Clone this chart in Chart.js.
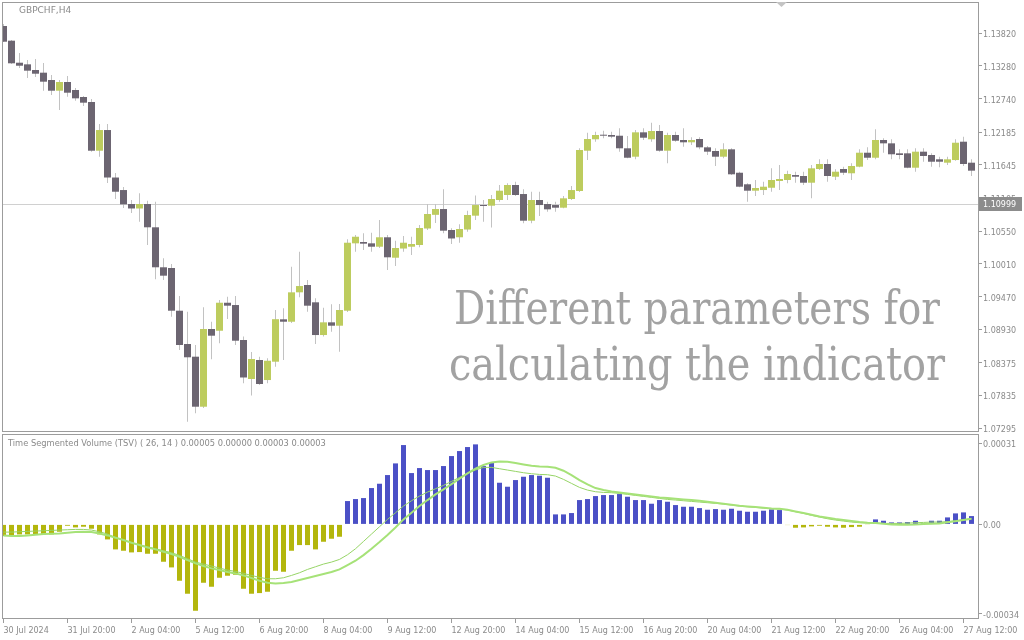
<!DOCTYPE html>
<html>
<head>
<meta charset="utf-8">
<title>GBPCHF,H4 - Time Segmented Volume</title>
<script src="https://cdn.jsdelivr.net/npm/chart.js@4.4.1/dist/chart.umd.min.js"></script>
<style>
  html, body { margin: 0; padding: 0; background: #fff; }
  #wrap { position: relative; width: 1024px; height: 640px; overflow: hidden; background: #fff; }
  canvas { position: absolute; left: 0; }
  #main { top: 0; }
  #sub { top: 434px; }
</style>
</head>
<body>
<div id="wrap">
  <canvas id="main" width="1024" height="434" style="width:1024px;height:434px"></canvas>
  <canvas id="sub" width="1024" height="206" style="width:1024px;height:206px"></canvas>
</div>
<script>
// ---- data (one entry per H4 bar, 30 Jul 12:00 .. 27 Aug 16:00) ----
const symbol = "GBPCHF,H4";

const priceOpen = [
  1.13941, 1.13698, 1.13334, 1.13307, 1.13213, 1.13169, 1.13048, 1.12871, 1.13015, 1.12883,
  1.12767, 1.12684, 1.11879, 1.12221, 1.11436, 1.11229, 1.10998, 1.10924, 1.10998, 1.10613,
  1.09952, 1.09940, 1.09234, 1.08684, 1.08474, 1.07647, 1.08932, 1.08903, 1.09366, 1.09328,
  1.08750, 1.08105, 1.08419, 1.08088, 1.08391, 1.09092, 1.09052, 1.09538, 1.09659, 1.09373,
  1.08832, 1.09042, 1.08986, 1.09234, 1.10348, 1.10370, 1.10348, 1.10292, 1.10448, 1.10110,
  1.10262, 1.10292, 1.10320, 1.10593, 1.10819, 1.10915, 1.10568, 1.10448, 1.10576, 1.10805,
  1.10981, 1.10970, 1.11064, 1.11147, 1.11312, 1.11163, 1.10722, 1.11064, 1.10998, 1.10981,
  1.10937, 1.11081, 1.11213, 1.11879, 1.12068, 1.12139, 1.12139, 1.12127, 1.11919, 1.11780,
  1.12183, 1.12068, 1.12205, 1.11879, 1.12139, 1.12056, 1.12018, 1.12073, 1.11935, 1.11874,
  1.11780, 1.11902, 1.11515, 1.11324, 1.11218, 1.11229, 1.11267, 1.11378, 1.11395, 1.11477,
  1.11461, 1.11350, 1.11577, 1.11659, 1.11449, 1.11577, 1.11506, 1.11615, 1.11846, 1.11763,
  1.12056, 1.12001, 1.11836, 1.11836, 1.11598, 1.11863, 1.11808, 1.11737, 1.11681, 1.11725,
  1.12028, 1.11681
];
const priceHigh = [
  1.13974, 1.13709, 1.13494, 1.13379, 1.13395, 1.13329, 1.13131, 1.13048, 1.13114, 1.12916,
  1.12783, 1.12734, 1.12321, 1.12321, 1.11511, 1.11279, 1.11064, 1.11175, 1.11053, 1.11036,
  1.10100, 1.10006, 1.09477, 1.09218, 1.08667, 1.09290, 1.09052, 1.09411, 1.09466, 1.09477,
  1.08808, 1.08551, 1.08474, 1.08447, 1.09246, 1.09274, 1.09961, 1.10209, 1.09742, 1.09439,
  1.09284, 1.09340, 1.09345, 1.10414, 1.10486, 1.10514, 1.10524, 1.10734, 1.10486, 1.10391,
  1.10469, 1.10457, 1.10651, 1.10998, 1.10998, 1.11241, 1.10596, 1.10662, 1.10887, 1.11139,
  1.11064, 1.11147, 1.11312, 1.11340, 1.11367, 1.11241, 1.11201, 1.11201, 1.11036, 1.11036,
  1.11130, 1.11296, 1.11919, 1.12177, 1.12193, 1.12210, 1.12193, 1.12249, 1.12122, 1.12221,
  1.12249, 1.12342, 1.12304, 1.12177, 1.12193, 1.12249, 1.12101, 1.12101, 1.11957, 1.11919,
  1.12001, 1.11919, 1.11532, 1.11340, 1.11395, 1.11367, 1.11588, 1.11643, 1.11549, 1.11532,
  1.11532, 1.11643, 1.11737, 1.11737, 1.11572, 1.11615, 1.11671, 1.11902, 1.11935, 1.12233,
  1.12084, 1.12068, 1.11902, 1.11902, 1.11919, 1.11919, 1.11836, 1.11780, 1.11780, 1.12068,
  1.12111, 1.11737
];
const priceLow = [
  1.13676, 1.13312, 1.13246, 1.13081, 1.13098, 1.12871, 1.12800, 1.12552, 1.12772, 1.12706,
  1.12618, 1.11863, 1.11780, 1.11345, 1.11081, 1.10932, 1.10849, 1.10705, 1.10320, 1.09753,
  1.09742, 1.09135, 1.08584, 1.07399, 1.07538, 1.07625, 1.08431, 1.08695, 1.09097, 1.08667,
  1.08034, 1.07832, 1.08006, 1.08034, 1.08308, 1.08419, 1.09031, 1.09456, 1.09218, 1.08684,
  1.08808, 1.08887, 1.08556, 1.09213, 1.10209, 1.10238, 1.10209, 1.10271, 1.09907, 1.09973,
  1.10209, 1.10155, 1.10282, 1.10568, 1.10684, 1.10514, 1.10337, 1.10358, 1.10540, 1.10734,
  1.10705, 1.10610, 1.11036, 1.11064, 1.11130, 1.10679, 1.10679, 1.10800, 1.10871, 1.10871,
  1.10927, 1.11064, 1.11196, 1.11725, 1.12028, 1.12084, 1.12084, 1.11863, 1.11753, 1.11737,
  1.12056, 1.12028, 1.11863, 1.11671, 1.12028, 1.11945, 1.11973, 1.11902, 1.11808, 1.11626,
  1.11753, 1.11477, 1.11274, 1.11036, 1.11130, 1.11147, 1.11201, 1.11229, 1.11340, 1.11350,
  1.11312, 1.11092, 1.11560, 1.11367, 1.11395, 1.11477, 1.11395, 1.11605, 1.11725, 1.11737,
  1.11846, 1.11737, 1.11737, 1.11588, 1.11532, 1.11697, 1.11615, 1.11605, 1.11643, 1.11714,
  1.11626, 1.11461
];
const priceClose = [
  1.13681, 1.13324, 1.13284, 1.13202, 1.13152, 1.13020, 1.12871, 1.13015, 1.12838, 1.12745,
  1.12673, 1.11879, 1.12221, 1.11436, 1.11201, 1.10993, 1.10924, 1.10998, 1.10613, 1.09952,
  1.09813, 1.09234, 1.08667, 1.08464, 1.07647, 1.08932, 1.08821, 1.09366, 1.09317, 1.08738,
  1.08130, 1.08436, 1.08022, 1.08407, 1.09094, 1.09052, 1.09538, 1.09642, 1.09317, 1.08832,
  1.09042, 1.08986, 1.09246, 1.10358, 1.10457, 1.10342, 1.10292, 1.10448, 1.10117, 1.10271,
  1.10358, 1.10337, 1.10601, 1.10833, 1.10915, 1.10557, 1.10428, 1.10585, 1.10816, 1.10981,
  1.10965, 1.11081, 1.11218, 1.11312, 1.11147, 1.10722, 1.11064, 1.10981, 1.10910, 1.10937,
  1.11092, 1.11229, 1.11891, 1.12073, 1.12139, 1.12127, 1.12111, 1.11919, 1.11763, 1.12183,
  1.12094, 1.12205, 1.11879, 1.12139, 1.12044, 1.12018, 1.12056, 1.11935, 1.11863, 1.11780,
  1.11902, 1.11489, 1.11284, 1.11218, 1.11263, 1.11284, 1.11395, 1.11411, 1.11494, 1.11449,
  1.11350, 1.11588, 1.11659, 1.11461, 1.11532, 1.11515, 1.11626, 1.11846, 1.11763, 1.12056,
  1.12001, 1.11820, 1.11808, 1.11598, 1.11863, 1.11792, 1.11697, 1.11697, 1.11737, 1.12011,
  1.11659, 1.11549
];
const priceTicks = [1.13820, 1.13280, 1.12740, 1.12185, 1.11645, 1.11105, 1.10550,
                    1.10010, 1.09470, 1.08930, 1.08375, 1.07835, 1.07295];
const priceLine = 1.10999;

// bar index of every date label on the time axis
const timeTicks = [0, 8, 16, 24, 32, 40, 48, 56, 64, 72, 80, 88, 96, 104, 112, 120];
const timeLabels = ["30 Jul 2024", "31 Jul 20:00", "2 Aug 04:00", "5 Aug 12:00", "6 Aug 20:00",
                    "8 Aug 04:00", "9 Aug 12:00", "12 Aug 20:00", "14 Aug 04:00", "15 Aug 12:00",
                    "16 Aug 20:00", "20 Aug 04:00", "21 Aug 12:00", "22 Aug 20:00", "26 Aug 04:00",
                    "27 Aug 12:00"];

const tsvHist = [
  -44.5e-6, -44.5e-6, -38.2e-6, -38.2e-6, -38.2e-6, -38.2e-6, -38.2e-6, -28.0e-6, -5.1e-6, -11.5e-6,
  -8.9e-6, -16.5e-6, -38.2e-6, -57.3e-6, -95.4e-6, -100.5e-6, -106.9e-6, -105.6e-6, -112.0e-6, -112.0e-6,
  -142.5e-6, -164.1e-6, -215.0e-6, -264.6e-6, -329.5e-6, -222.7e-6, -237.9e-6, -203.6e-6, -195.9e-6, -192.1e-6,
  -245.6e-6, -264.6e-6, -262.1e-6, -257.0e-6, -176.9e-6, -180.7e-6, -100.5e-6, -78.9e-6, -78.9e-6, -95.4e-6,
  -66.2e-6, -54.7e-6, -47.1e-6, 89.1e-6, 96.7e-6, 100.5e-6, 138.7e-6, 155.2e-6, 188.3e-6, 232.8e-6,
  302.8e-6, 195.9e-6, 215.0e-6, 207.4e-6, 207.4e-6, 222.7e-6, 260.8e-6, 279.9e-6, 295.2e-6, 305.4e-6,
  222.7e-6, 235.4e-6, 159.0e-6, 143.8e-6, 169.2e-6, 181.9e-6, 188.3e-6, 185.8e-6, 178.1e-6, 38.2e-6,
  38.2e-6, 43.3e-6, 92.9e-6, 96.7e-6, 108.1e-6, 112.0e-6, 112.0e-6, 115.8e-6, 105.6e-6, 92.9e-6,
  92.9e-6, 78.9e-6, 92.9e-6, 86.5e-6, 73.8e-6, 67.4e-6, 67.4e-6, 62.3e-6, 56.0e-6, 58.5e-6,
  56.0e-6, 59.8e-6, 52.2e-6, 48.3e-6, 48.3e-6, 52.2e-6, 57.3e-6, 54.7e-6, -2.5e-6, -12.7e-6,
  -11.5e-6, -7.6e-6, -5.1e-6, -8.9e-6, -11.5e-6, -12.7e-6, -10.2e-6, -8.9e-6, -1.3e-6, 19.1e-6,
  14.0e-6, 7.6e-6, 7.6e-6, 8.9e-6, 14.0e-6, 3.8e-6, 14.0e-6, 14.0e-6, 26.7e-6, 42.0e-6,
  45.8e-6, 31.8e-6
];
const tsvFast = [
  -42.0e-6, -44.5e-6, -44.5e-6, -42.0e-6, -39.4e-6, -36.9e-6, -35.6e-6, -34.4e-6, -31.8e-6, -29.3e-6,
  -28.0e-6, -29.3e-6, -34.4e-6, -42.0e-6, -50.9e-6, -59.8e-6, -70.0e-6, -78.9e-6, -87.8e-6, -95.4e-6,
  -104.3e-6, -113.2e-6, -123.4e-6, -136.1e-6, -148.9e-6, -159.0e-6, -167.9e-6, -174.3e-6, -181.9e-6, -187.0e-6,
  -194.7e-6, -204.8e-6, -215.0e-6, -222.7e-6, -225.2e-6, -223.9e-6, -220.1e-6, -212.5e-6, -204.8e-6, -197.2e-6,
  -189.6e-6, -181.9e-6, -171.8e-6, -155.2e-6, -138.7e-6, -117.1e-6, -92.9e-6, -67.4e-6, -40.7e-6, -11.5e-6,
  19.1e-6, 44.5e-6, 70.0e-6, 92.9e-6, 114.5e-6, 133.6e-6, 153.9e-6, 174.3e-6, 194.7e-6, 212.5e-6,
  226.5e-6, 236.6e-6, 240.5e-6, 239.2e-6, 234.1e-6, 229.0e-6, 223.9e-6, 221.4e-6, 220.1e-6, 216.3e-6,
  204.8e-6, 188.3e-6, 169.2e-6, 152.7e-6, 138.7e-6, 131.0e-6, 126.0e-6, 122.1e-6, 118.3e-6, 114.5e-6,
  110.7e-6, 106.9e-6, 103.1e-6, 100.5e-6, 98.0e-6, 95.4e-6, 92.9e-6, 90.3e-6, 86.5e-6, 82.7e-6,
  78.9e-6, 75.1e-6, 71.2e-6, 68.7e-6, 66.2e-6, 63.6e-6, 61.1e-6, 59.8e-6, 56.0e-6, 49.6e-6,
  43.3e-6, 36.9e-6, 30.5e-6, 25.4e-6, 20.4e-6, 16.5e-6, 12.7e-6, 8.9e-6, 6.4e-6, 5.1e-6,
  2.5e-6, 0, -1.3e-6, -1.3e-6, 0, 1.3e-6, 2.5e-6, 3.8e-6, 8.0e-6, 12.0e-6,
  17.0e-6, 22.0e-6
];
const tsvSlow = [
  -29.3e-6, -29.3e-6, -28.0e-6, -26.7e-6, -25.4e-6, -24.2e-6, -22.9e-6, -21.6e-6, -20.4e-6, -19.1e-6,
  -19.1e-6, -21.6e-6, -28.0e-6, -36.9e-6, -49.6e-6, -59.8e-6, -70.0e-6, -78.9e-6, -85.2e-6, -92.9e-6,
  -100.5e-6, -108.1e-6, -118.3e-6, -131.0e-6, -143.8e-6, -151.4e-6, -159.0e-6, -166.7e-6, -174.3e-6, -179.4e-6,
  -187.0e-6, -194.7e-6, -202.3e-6, -207.4e-6, -207.4e-6, -203.6e-6, -194.7e-6, -184.5e-6, -171.8e-6, -161.6e-6,
  -151.4e-6, -143.8e-6, -133.6e-6, -115.8e-6, -92.9e-6, -64.9e-6, -36.9e-6, -8.9e-6, 19.1e-6, 44.5e-6,
  70.0e-6, 90.3e-6, 108.1e-6, 123.4e-6, 136.1e-6, 148.9e-6, 164.1e-6, 179.4e-6, 194.7e-6, 207.4e-6,
  217.6e-6, 217.6e-6, 212.5e-6, 207.4e-6, 202.3e-6, 197.2e-6, 193.4e-6, 190.8e-6, 189.6e-6, 184.5e-6,
  171.8e-6, 156.5e-6, 141.2e-6, 131.0e-6, 124.7e-6, 122.1e-6, 120.9e-6, 118.3e-6, 114.5e-6, 110.7e-6,
  106.9e-6, 103.1e-6, 99.2e-6, 95.4e-6, 92.9e-6, 90.3e-6, 87.8e-6, 85.2e-6, 82.7e-6, 80.2e-6,
  77.6e-6, 73.8e-6, 70.0e-6, 67.4e-6, 64.9e-6, 62.3e-6, 59.8e-6, 58.5e-6, 54.7e-6, 48.3e-6,
  42.0e-6, 34.4e-6, 28.0e-6, 21.6e-6, 16.5e-6, 12.7e-6, 8.9e-6, 6.4e-6, 5.1e-6, 5.1e-6,
  3.8e-6, 3.8e-6, 3.8e-6, 5.1e-6, 6.4e-6, 7.6e-6, 8.9e-6, 8.9e-6, 10.2e-6, 14.0e-6,
  18.0e-6, 22.0e-6
];
const tsvTicks = [0.00031, 0, -0.00034];
const tsvTitle = "Time Segmented Volume (TSV) ( 26, 14 ) 0.00005 0.00000 0.00003 0.00003";
const caption = ["Different parameters for", "calculating the indicator"];

// ---- look ----
const bullColor = "#bdcc5e";
const bearColor = "#6c6571";
const wickColor = "#c2c2c2";
const upColor = "#4b50c6";
const downColor = "#b3b60c";
const fastColor = "#a6e278";
const slowColor = "#96d466";
const frameColor = "#9c9c9c";
const textColor = "#8a8a8a";

// visible bar range (half a bar of margin each side, 8 px per bar)
const xMin = -0.1875, xMax = 121.8125;

Chart.defaults.font.family = "'DejaVu Sans', sans-serif";
Chart.defaults.font.size = 8;
Chart.defaults.color = textColor;

function fixedTicks(values) {
  return scale => { scale.ticks = values.map(v => ({ value: v })); };
}

// keep the plot edges where the terminal puts them: no extra room for end labels
function fitWidth(w) {
  return s => { s.width = w; s.paddingTop = 0; s.paddingBottom = 0; };
}
function fitHeight(h) {
  return s => { s.height = h; s.paddingLeft = 0; s.paddingRight = 0; };
}

function drawFrame(ctx, a) {
  ctx.save();
  ctx.strokeStyle = frameColor;
  ctx.lineWidth = 1;
  ctx.strokeRect(a.left + 0.5, a.top + 0.5, a.right - a.left, a.bottom - a.top - 1);
  ctx.restore();
}

const mainDecor = {
  id: "mainDecor",
  beforeDatasetsDraw(chart) {
    const { ctx, chartArea: a, scales } = chart;
    const py = Math.round(scales.y.getPixelForValue(priceLine)) + 0.5;
    ctx.save();
    ctx.strokeStyle = "#d0d0d0";
    ctx.lineWidth = 1;
    ctx.beginPath();
    ctx.moveTo(a.left, py);
    ctx.lineTo(a.right, py);
    ctx.stroke();
    ctx.restore();
  },
  afterDatasetsDraw(chart) {
    const ctx = chart.ctx;
    ctx.save();
    ctx.fillStyle = "#a2a2a2";
    ctx.font = "47px 'DejaVu Serif', serif";
    ctx.textBaseline = "alphabetic";
    const rows = [[caption[0], 454, 324, 486], [caption[1], 449, 380, 496]];
    rows.forEach(([txt, x, y, w]) => {
      const k = w / ctx.measureText(txt).width;
      ctx.save();
      ctx.translate(x, y);
      ctx.scale(k, 1);
      ctx.fillText(txt, 0, 0);
      ctx.restore();
    });
    ctx.restore();
  },
  afterDraw(chart) {
    const { ctx, chartArea: a, scales } = chart;
    drawFrame(ctx, a);
    // current price box on the scale
    const py = Math.round(scales.y.getPixelForValue(priceLine));
    ctx.save();
    ctx.fillStyle = "#8c8c8c";
    ctx.fillRect(a.right + 1, py - 7, 43, 14);
    ctx.fillStyle = "#ffffff";
    ctx.font = "8px 'DejaVu Sans'";
    ctx.textBaseline = "middle";
    ctx.fillText(priceLine.toFixed(5), a.right + 5, py + 1);
    // symbol caption
    ctx.fillStyle = textColor;
    ctx.font = "9px 'DejaVu Sans'";
    ctx.fillText(symbol, 19, 11);
    // chart shift marker
    ctx.fillStyle = "#c4c4c4";
    ctx.beginPath();
    ctx.moveTo(776, 2);
    ctx.lineTo(787, 2);
    ctx.lineTo(781.5, 7);
    ctx.closePath();
    ctx.fill();
    ctx.restore();
  }
};

const subDecor = {
  id: "subDecor",
  afterDraw(chart) {
    const { ctx, chartArea: a } = chart;
    drawFrame(ctx, a);
    ctx.save();
    ctx.fillStyle = textColor;
    ctx.font = "8.3px 'DejaVu Sans'";
    ctx.textBaseline = "middle";
    ctx.fillText(tsvTitle, 8, 10);
    ctx.restore();
  }
};

new Chart(document.getElementById("main"), {
  type: "bar",
  data: {
    datasets: [
      {
        label: "body",
        data: priceOpen.map((o, i) => ({ x: i, y: [o, priceClose[i]] })),
        backgroundColor: priceOpen.map((o, i) => priceClose[i] >= o ? bullColor : bearColor),
        barThickness: 7,
        minBarLength: 1,
        grouped: false,
        inflateAmount: 0,
        borderWidth: 0,
        order: 1
      },
      {
        label: "wick",
        data: priceLow.map((l, i) => ({ x: i, y: [l, priceHigh[i]] })),
        backgroundColor: wickColor,
        barThickness: 1,
        grouped: false,
        inflateAmount: 0,
        borderWidth: 0,
        order: 2
      }
    ]
  },
  options: {
    responsive: false,
    animation: false,
    events: [],
    layout: { padding: { left: 2, top: 2, right: 0, bottom: 2 } },
    plugins: { legend: { display: false }, tooltip: { enabled: false } },
    scales: {
      x: { type: "linear", min: xMin, max: xMax, bounds: "data", offset: false, display: false },
      y: {
        type: "linear",
        position: "right",
        min: 1.07229,
        max: 1.143375,
        bounds: "data",
        afterBuildTicks: fixedTicks(priceTicks),
        afterFit: fitWidth(46),
        border: { display: false },
        grid: { drawOnChartArea: false, drawTicks: true, tickLength: 4, color: frameColor },
        ticks: { autoSkip: false, padding: 1, labelOffset: 2, color: textColor, callback: v => v.toFixed(5) }
      }
    }
  },
  plugins: [mainDecor]
});

new Chart(document.getElementById("sub"), {
  type: "bar",
  data: {
    datasets: [
      {
        type: "line",
        label: "TSV",
        data: tsvFast.map((v, i) => ({ x: i, y: v })),
        borderColor: fastColor,
        borderWidth: 2,
        pointRadius: 0,
        tension: 0,
        order: 1
      },
      {
        type: "line",
        label: "Signal",
        data: tsvSlow.map((v, i) => ({ x: i, y: v })),
        borderColor: slowColor,
        borderWidth: 1,
        pointRadius: 0,
        tension: 0,
        order: 2
      },
      {
        type: "bar",
        label: "Histogram",
        data: tsvHist.map((v, i) => ({ x: i, y: v })),
        backgroundColor: tsvHist.map(v => v >= 0 ? upColor : downColor),
        barThickness: 5,
        grouped: false,
        inflateAmount: 0,
        borderWidth: 0,
        order: 3
      }
    ]
  },
  options: {
    responsive: false,
    animation: false,
    events: [],
    layout: { padding: { left: 2, top: 0, right: 0, bottom: 0 } },
    plugins: { legend: { display: false }, tooltip: { enabled: false } },
    scales: {
      x: {
        type: "linear",
        min: xMin,
        max: xMax,
        bounds: "data",
        offset: false,
        position: "bottom",
        afterBuildTicks: fixedTicks(timeTicks),
        afterFit: fitHeight(21),
        border: { display: false },
        grid: { drawOnChartArea: false, drawTicks: true, tickLength: 4, color: frameColor, offset: false },
        ticks: {
          autoSkip: false, maxRotation: 0, align: "start", padding: 3, color: textColor,
          callback: v => timeLabels[timeTicks.indexOf(v)]
        }
      },
      y: {
        type: "linear",
        position: "right",
        min: -0.000361,
        max: 0.000345,
        bounds: "data",
        afterBuildTicks: fixedTicks(tsvTicks),
        afterFit: fitWidth(46),
        border: { display: false },
        grid: { drawOnChartArea: false, drawTicks: true, tickLength: 4, color: frameColor },
        ticks: { autoSkip: false, padding: 1, labelOffset: 2, color: textColor, callback: v => v === 0 ? "0.00" : v.toFixed(5) }
      }
    }
  },
  plugins: [subDecor]
});
</script>
</body>
</html>
